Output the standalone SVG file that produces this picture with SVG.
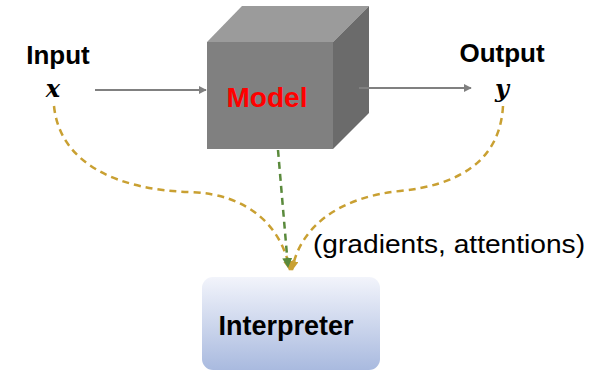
<svg xmlns="http://www.w3.org/2000/svg" width="592" height="372" viewBox="0 0 592 372">
  <defs>
    <style>
      .lbl { font-family: "Liberation Sans", Arial, sans-serif; font-weight: bold; fill: #000; text-anchor: middle; }
      .var { font-family: "DejaVu Serif", "Liberation Serif", serif; font-style: italic; font-weight: bold; fill: #000; text-anchor: middle; }
      .flow { fill: none; stroke: #808080; stroke-width: 2; }
      .gold { fill: none; stroke: #c9a032; stroke-width: 2.5; stroke-dasharray: 7 5; }
      .green { fill: none; stroke: #5a8a3c; stroke-width: 2.5; stroke-dasharray: 7 5; }
    </style>
    <marker id="ahGray" viewBox="0 0 10 10" refX="9" refY="5" markerWidth="4" markerHeight="4" orient="auto" markerUnits="strokeWidth">
      <path d="M0,0 L10,5 L0,10 z" fill="#808080"/>
    </marker>
    <marker id="ahGold" viewBox="0 0 10 10" refX="9" refY="5" markerWidth="4" markerHeight="4" orient="auto" markerUnits="strokeWidth">
      <path d="M0,0 L10,5 L0,10 z" fill="#c9a032"/>
    </marker>
    <marker id="ahGreen" viewBox="0 0 10 10" refX="9" refY="5" markerWidth="4" markerHeight="4" orient="auto" markerUnits="strokeWidth">
      <path d="M0,0 L10,5 L0,10 z" fill="#5a8a3c"/>
    </marker>
    <linearGradient id="interpFill" x1="0" y1="0" x2="0" y2="1">
      <stop offset="0" stop-color="#f2f4fb"/>
      <stop offset="1" stop-color="#a9badf"/>
    </linearGradient>
  </defs>

  <!-- input label -->
  <g id="input">
    <text class="lbl" x="58" y="64" font-size="26">Input</text>
    <text class="var" x="53" y="97" font-size="24">x</text>
  </g>

  <!-- output label -->
  <g id="output">
    <text class="lbl" x="502" y="62" font-size="26">Output</text>
    <text class="var" x="502" y="97" font-size="24">y</text>
  </g>

  <!-- model drawn as a grey cube -->
  <g id="model">
    <polygon points="207,42 242,6 369,6 333,42" fill="#9b9b9b"/>
    <polygon points="333,42 369,6 369,113 333,149" fill="#6b6b6b"/>
    <rect x="207" y="42" width="126" height="107" fill="#808080"/>
    <text x="267" y="107" font-family="'Liberation Sans', Arial, sans-serif" font-weight="bold" font-size="28" fill="#ff0000" text-anchor="middle">Model</text>
  </g>

  <!-- interpreter box -->
  <g id="interpreter">
    <rect x="202" y="277" width="178" height="93" rx="11" fill="url(#interpFill)"/>
    <text class="lbl" x="286" y="335" font-size="27">Interpreter</text>
  </g>

  <!-- connectors -->
  <g id="connectors">
    <line class="flow" x1="95" y1="90" x2="206" y2="90" marker-end="url(#ahGray)"/>
    <line class="flow" x1="359" y1="88" x2="471" y2="88" marker-end="url(#ahGray)"/>
    <path class="gold" d="M54,106 C60,165 120,190 190,192 C250,194 282,228 290,270" marker-end="url(#ahGold)"/>
    <path class="gold" d="M503,106 C500,160 460,185 400,191 C340,197 300,226 292,270" marker-end="url(#ahGold)"/>
    <path class="green" d="M278,150 L288,267" marker-end="url(#ahGreen)"/>
  </g>

  <!-- connector annotation -->
  <g id="annotation">
    <text x="313" y="253" font-family="'Liberation Sans', Arial, sans-serif" font-size="26" fill="#000" textLength="272" lengthAdjust="spacingAndGlyphs">(gradients, attentions)</text>
  </g>
</svg>
